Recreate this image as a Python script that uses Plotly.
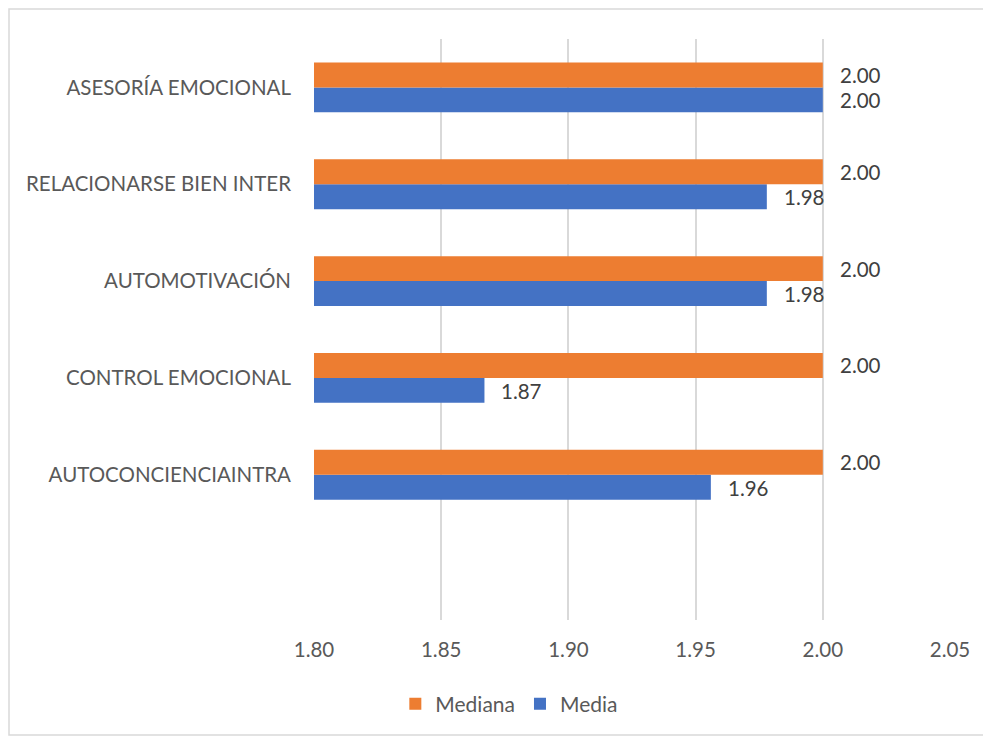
import plotly.graph_objects as go

categories = ["AUTOCONCIENCIAINTRA", "CONTROL EMOCIONAL", "AUTOMOTIVACIÓN",
              "RELACIONARSE BIEN INTER", "ASESORÍA EMOCIONAL"]
media = [1.956, 1.867, 1.978, 1.978, 2.00]
mediana = [2.00, 2.00, 2.00, 2.00, 2.00]
x_ticks = [1.80, 1.85, 1.90, 1.95, 2.00, 2.05]

BLUE = "#4472C4"
ORANGE = "#ED7D31"
TXT = "#595959"
FONT = "Lato"
FS = 20.5

W, H = 983, 730
L, R, T, B = 306, 41, 31, 118

fig = go.Figure()
fig.add_trace(go.Bar(y=categories, x=media, orientation="h", name="Media",
                     marker=dict(color=BLUE, line=dict(width=0))))
fig.add_trace(go.Bar(y=categories, x=mediana, orientation="h", name="Mediana",
                     marker=dict(color=ORANGE, line=dict(width=0))))

annotations = []
for cat, v in zip(categories, mediana):
    annotations.append(dict(x=v, y=cat, text=f"{v:.2f}", showarrow=False,
                            xanchor="left", yanchor="middle", xshift=15, yshift=12.5,
                            font=dict(family=FONT, size=FS, color="#404040")))
for cat, v in zip(categories, media):
    annotations.append(dict(x=v, y=cat, text=f"{v:.2f}", showarrow=False,
                            xanchor="left", yanchor="middle", xshift=15, yshift=-13,
                            font=dict(family=FONT, size=FS, color="#404040")))

pw, ph = W - L - R, H - T - B
fig.update_layout(
    width=W, height=H,
    margin=dict(l=L, r=R, t=T, b=B),
    paper_bgcolor="white", plot_bgcolor="white",
    barmode="group", bargap=0.485, bargroupgap=0,
    font=dict(family=FONT, size=FS, color=TXT),
    showlegend=True,
    legend=dict(orientation="h", xref="container", yref="container",
                x=0.51, y=1 - (704 - 8) / H, xanchor="center", yanchor="middle",
                traceorder="reversed", font=dict(size=21, color=TXT),
                itemwidth=30),
    annotations=annotations,
    shapes=[dict(type="rect", xref="paper", yref="paper",
                 x0=-(L - 1) / pw, x1=1 + (R - 2) / pw,
                 y0=-(B - 3) / ph, y1=1 + (T - 1) / ph,
                 line=dict(color="#d9d9d9", width=1.5), layer="below")],
)
fig.update_xaxes(range=[1.80, 2.05], tickvals=x_ticks,
                 ticktext=[f"{t:.2f}" for t in x_ticks],
                 showgrid=True, gridcolor="#d9d9d9", gridwidth=1.5,
                 zeroline=False, showline=False, ticks="",
                 ticklabelstandoff=15, tickfont=dict(size=FS, color=TXT))
fig.update_yaxes(range=[-1.5, 4.5], showgrid=False, zeroline=False,
                 showline=False, ticks="", ticklabelstandoff=22,
                 tickfont=dict(size=FS, color=TXT))

fig.write_html("out.html")
